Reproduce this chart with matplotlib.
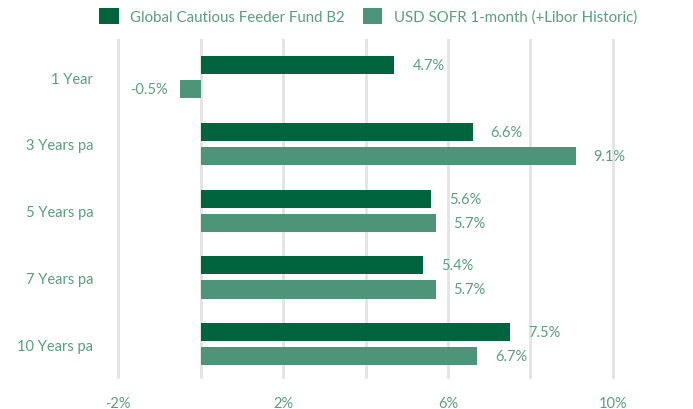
import matplotlib.pyplot as plt
import numpy as np

categories = ["1 Year", "3 Years pa", "5 Years pa", "7 Years pa", "10 Years pa"]
fund = [4.7, 6.6, 5.6, 5.4, 7.5]
sofr = [-0.5, 9.1, 5.7, 5.7, 6.7]
fund_name = "Global Cautious Feeder Fund B2"
sofr_name = "USD SOFR 1-month (+Libor Historic)"

dark = "#00643f"
light = "#4d9479"
txt = "#5a9e82"

plt.rcParams["font.family"] = ["Lato", "DejaVu Sans"]

fig = plt.figure(figsize=(6.93, 4.10), dpi=100)
W, H = 693, 410
ax = fig.add_axes([110 / W, 1 - 380 / H, (621 - 110) / W, (380 - 40) / H])

y = np.arange(len(categories))
off = 0.18
h = 0.27
b1 = ax.barh(y - off, fund, height=h, color=dark, label=fund_name, zorder=3)
b2 = ax.barh(y + off, sofr, height=h, color=light, label=sofr_name, zorder=3)

for bars, vals in ((b1, fund), (b2, sofr)):
    for bar, v in zip(bars, vals):
        yc = bar.get_y() + bar.get_height() / 2
        if v >= 0:
            ax.annotate(f"{v:.1f}%", (v, yc), xytext=(13, 0),
                        textcoords="offset points", va="center", ha="left",
                        color=txt, fontsize=10.5)
        else:
            ax.annotate(f"{v:.1f}%", (v, yc), xytext=(-9, 0),
                        textcoords="offset points", va="center", ha="right",
                        color=txt, fontsize=10.5)

ax.set_xlim(-2.2, 10.2)
ax.set_ylim(4.52, -0.57)
ax.set_xticks(np.arange(-2, 11, 2), minor=True)
ax.set_xticks([-2, 2, 6, 10])
ax.set_xticklabels(["-2%", "2%", "6%", "10%"])
ax.grid(True, axis="x", which="both", color="#e3e3e3", linewidth=2, zorder=0)
ax.set_yticks(y)
ax.set_yticklabels(categories)
ax.tick_params(axis="both", which="both", length=0, colors=txt, labelsize=10.5)
ax.tick_params(axis="x", pad=12)
ax.tick_params(axis="y", pad=12)
for s in ax.spines.values():
    s.set_visible(False)

fig.legend(handles=[b1, b2], loc="center", bbox_to_anchor=(368 / W, 1 - 17 / H),
           ncol=2, frameon=False, fontsize=10.8, labelcolor=txt,
           handlelength=1.3, handleheight=1.3, handletextpad=0.75,
           columnspacing=1.2, borderaxespad=0, borderpad=0)

fig.savefig("out.png", dpi=100)
